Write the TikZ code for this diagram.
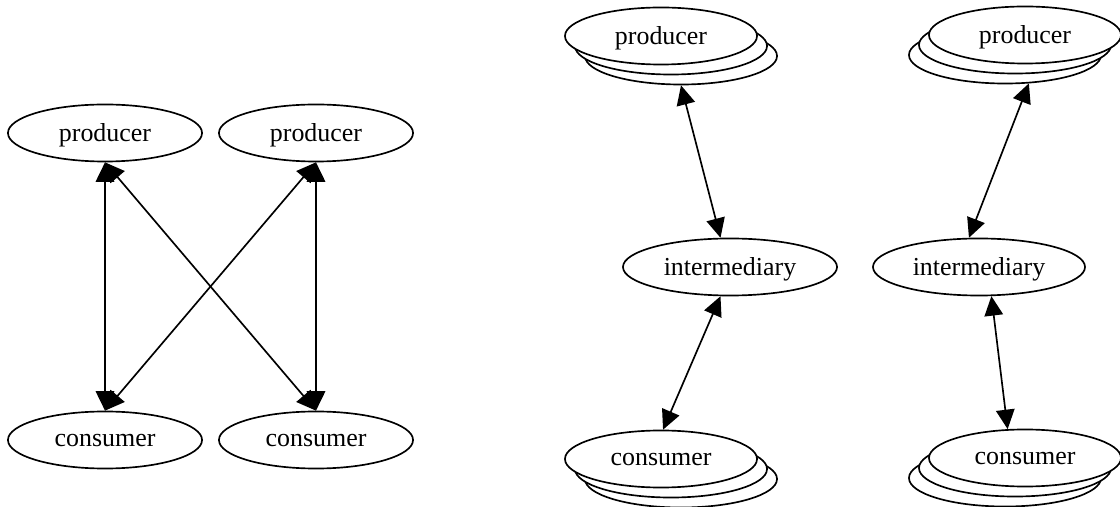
\documentclass[tikz,border=0pt]{standalone}
\usepackage{fontspec}
\setmainfont{Liberation Serif}
\usetikzlibrary{shapes.geometric, arrows.meta}

\begin{document}
\begin{tikzpicture}[x=0.54pt, y=-0.54pt,
	party/.style={ellipse, draw, line width=0.9pt, fill=white, inner sep=0pt, text depth=0pt,
		minimum width=103.7pt, minimum height=30.8pt, font=\fontsize{14}{16}\selectfont},
	broker/.style={party, minimum width=115.6pt},
	link/.style={{Triangle[length=10.5pt,width=10pt]}-{Triangle[length=10.5pt,width=10pt]}, line width=0.9pt}]
		\useasboundingbox (0,0) rectangle (1120,507);
		% direct exchange
		\node[party, minimum width=104.8pt] (prodL) at (105,133) {producer};
		\node[party, minimum width=104.8pt] (prodR) at (316,133) {producer};
		\node[party, minimum width=104.8pt] (consL) at (105,440) {consumer};
		\node[party, minimum width=104.8pt] (consR) at (316,440) {consumer};
		\draw[link] (prodL.south) -- (consL.north);
		\draw[link] (prodL.south) -- (consR.north);
		\draw[link] (prodR.south) -- (consL.north);
		\draw[link] (prodR.south) -- (consR.north);
		% via intermediary, stacks to the right
		\foreach \k in {2,1}{
			\node[party] (prodA\k) at (661+10*\k, 36+10*\k) {};
			\node[party] (consA\k) at (661+10*\k, 459+10*\k) {};
		}
		\node[party] (prodA) at (661,36) {producer};
		\node[party] (consA) at (661,459) {consumer};
		\node[broker] (interA) at (730,267) {intermediary};
		\draw[link] (prodA2.270) -- (interA.108);
		\draw[link] (interA.252) -- (consA.86);
		% via intermediary, stacks to the left
		\foreach \k in {2,1}{
			\node[party] (prodB\k) at (1025-10*\k, 35+10*\k) {};
			\node[party] (consB\k) at (1025-10*\k, 458+10*\k) {};
		}
		\node[party] (prodB) at (1025,35) {producer};
		\node[party] (consB) at (1025,458) {consumer};
		\node[broker, minimum width=114.5pt] (interB) at (979,267) {intermediary};
		\draw[link] (prodB2.310) -- (interB.109);
		\draw[link] (interB.293) -- (consB.121);
	\end{tikzpicture}
\end{document}
